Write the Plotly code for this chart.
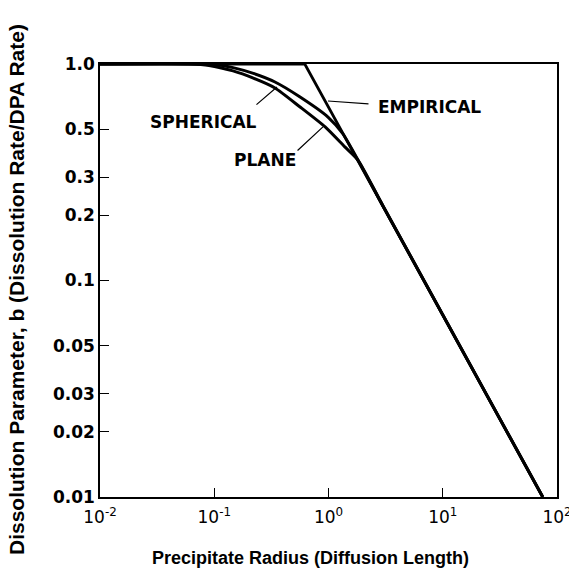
import plotly.graph_objects as go

# Data
empirical_r = [0.01, 0.62, 75.0]
empirical_b = [1.0, 1.0, 0.01]

spherical_r = [0.01, 0.08, 0.106, 0.146, 0.22, 0.34, 0.564, 0.99, 1.34, 3.0, 75.0]
spherical_b = [1.0, 1.0, 0.993, 0.962, 0.905, 0.826, 0.704, 0.569, 0.475, 0.221, 0.01]

plane_r = [0.01, 0.06, 0.09, 0.146, 0.22, 0.34, 0.564, 0.935, 1.39, 1.81, 3.0, 75.0]
plane_b = [1.0, 1.0, 0.985, 0.929, 0.86, 0.775, 0.633, 0.512, 0.414, 0.36, 0.221, 0.01]

x_tickvals = [0.01, 0.1, 1, 10, 100]
x_ticktext = ["10<sup>-2</sup>", "10<sup>-1</sup>", "10<sup>0</sup>", "10<sup>1</sup>", "10<sup>2</sup>"]
y_tickvals = [0.01, 0.02, 0.03, 0.05, 0.1, 0.2, 0.3, 0.5, 1.0]
y_ticktext = ["0.01", "0.02", "0.03", "0.05", "0.1", "0.2", "0.3", "0.5", "1.0"]

LBL = dict(family="DejaVu Sans", size=17, color="black", weight="bold")

fig = go.Figure()
fig.add_trace(go.Scatter(x=empirical_r, y=empirical_b, mode="lines", name="EMPIRICAL",
                         line=dict(color="black", width=2.8), cliponaxis=False))
fig.add_trace(go.Scatter(x=spherical_r, y=spherical_b, mode="lines", name="SPHERICAL",
                         line=dict(color="black", width=3, shape="spline", smoothing=0.6),
                         cliponaxis=False))
fig.add_trace(go.Scatter(x=plane_r, y=plane_b, mode="lines", name="PLANE",
                         line=dict(color="black", width=3, shape="spline", smoothing=0.6),
                         cliponaxis=False))

# curve labels (positions in log10 units)
fig.add_annotation(x=-1.098, y=-0.268, xref="x", yref="y", text="SPHERICAL", showarrow=False,
                   xanchor="center", yanchor="middle", font=LBL)
fig.add_annotation(x=-0.556, y=-0.443, xref="x", yref="y", text="PLANE", showarrow=False,
                   xanchor="center", yanchor="middle", font=LBL)
fig.add_annotation(x=0.888, y=-0.199, xref="x", yref="y", text="EMPIRICAL", showarrow=False,
                   xanchor="center", yanchor="middle", font=LBL)

# leader lines
fig.add_annotation(x=-0.451, y=-0.106, xref="x", yref="y", text="", showarrow=True,
                   arrowhead=0, arrowwidth=1.2, arrowcolor="black", ax=-22, ay=19)
fig.add_annotation(x=-0.039, y=-0.286, xref="x", yref="y", text="", showarrow=True,
                   arrowhead=0, arrowwidth=1.2, arrowcolor="black", ax=-28, ay=26)
fig.add_annotation(x=-0.0044, y=-0.171, xref="x", yref="y", text="", showarrow=True,
                   arrowhead=0, arrowwidth=1.2, arrowcolor="black", ax=42, ay=3)

# axis titles
fig.add_annotation(x=0.46, y=0, xref="paper", yref="paper", yshift=-61,
                   xanchor="center", yanchor="middle",
                   text="Precipitate Radius (Diffusion Length)", showarrow=False,
                   font=dict(family="Liberation Sans", size=18, color="black", weight="bold"))
fig.add_annotation(x=0, y=0.478, xref="paper", yref="paper", xshift=-84, textangle=-90,
                   xanchor="center", yanchor="middle",
                   text="Dissolution Parameter, b (Dissolution Rate/DPA Rate)", showarrow=False,
                   font=dict(family="Liberation Sans", size=21, color="black", weight="bold"))

fig.update_xaxes(type="log", range=[-2, 2], tickvals=x_tickvals, ticktext=x_ticktext,
                 ticks="inside", ticklen=9, tickwidth=1.3, tickcolor="black",
                 showline=True, linecolor="black", linewidth=1.5, mirror=True,
                 showgrid=False, zeroline=False, automargin=False, ticklabelstandoff=4,
                 tickfont=dict(family="DejaVu Sans", size=17, color="black"))
fig.update_yaxes(type="log", range=[-2, 0], tickvals=y_tickvals, ticktext=y_ticktext,
                 ticks="inside", ticklen=9, tickwidth=1.3, tickcolor="black",
                 showline=True, linecolor="black", linewidth=1.5, mirror=True,
                 showgrid=False, zeroline=False, automargin=False,
                 tickfont=dict(family="DejaVu Sans", size=17, color="black", weight="bold"))

# the page body adds an 8px offset; size the figure so the plot lands where the reference has it
fig.update_layout(width=569, height=569, margin=dict(l=92, r=20, t=56, b=80, autoexpand=False),
                  plot_bgcolor="white", paper_bgcolor="white", showlegend=False)

fig.write_html("out.html")
